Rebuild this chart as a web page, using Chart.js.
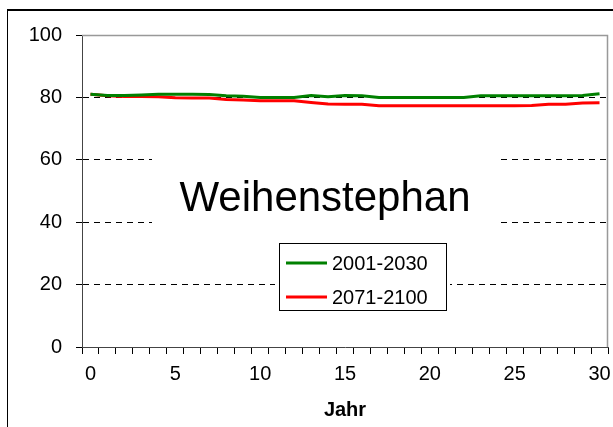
<!DOCTYPE html>
<html>
<head>
<meta charset="utf-8">
<script src="https://cdn.jsdelivr.net/npm/chart.js@4.4.1/dist/chart.umd.min.js"></script>
<style>
  html, body { margin: 0; padding: 0; background: #fff; }
  #wrap { width: 613px; height: 427px; position: relative; overflow: hidden; }
  #frame { position: absolute; left: 7px; top: 9px; width: 620px; height: 430px;
           border-top: 2px solid #000; border-left: 1px solid #000; pointer-events: none; z-index: 5; }
</style>
</head>
<body>
<div id="wrap"><canvas id="chart" width="613" height="427"></canvas><div id="frame"></div></div>
<script>
// values (Jahr 0..30)
const years = [0, 1, 2, 3, 4, 5, 6, 7, 8, 9, 10, 11, 12, 13, 14, 15, 16, 17, 18, 19, 20, 21, 22, 23, 24, 25, 26, 27, 28, 29, 30];
const shownTicks = ["0", "5", "10", "15", "20", "25", "30"];
const seriesNames = ["2001-2030", "2071-2100"];
const early = [81.0, 80.6, 80.6, 80.8, 81.0, 81.0, 81.0, 80.9, 80.5, 80.4, 80.0, 80.0, 80.0, 80.6, 80.2, 80.6,
               80.5, 80.0, 80.0, 80.0, 80.0, 80.0, 80.0, 80.5, 80.5, 80.5, 80.5, 80.5, 80.5, 80.6, 81.2];
const late = [81.0, 80.5, 80.3, 80.3, 80.2, 79.9, 79.8, 79.8, 79.3, 79.2, 78.9, 78.9, 78.9, 78.4, 77.9, 77.8,
              77.8, 77.3, 77.3, 77.3, 77.3, 77.3, 77.3, 77.3, 77.3, 77.3, 77.4, 77.8, 77.8, 78.2, 78.3];
const yTicks = [0, 20, 40, 60, 80, 100];
const stationName = "Weihenstephan";

const FONT = "'Liberation Sans', Arial, sans-serif";

// plot border, outer frame line, title box and legend box
const extras = {
    id: "extras",
    afterDraw(chart) {
        const c = chart.ctx;
        c.save();
        c.fillStyle = "#000";
        c.fillRect(7, 9, 606, 2);
        c.fillRect(7, 9, 1, 418);
        c.restore();
    },
    beforeDatasetsDraw(chart) {
        const c = chart.ctx;
        const a = chart.chartArea;
        c.save();
        c.strokeStyle = "#999";
        c.lineWidth = 1.5;
        c.beginPath();
        c.moveTo(a.left, a.top + 0.5);
        c.lineTo(a.right - 0.5, a.top + 0.5);
        c.lineTo(a.right - 0.5, a.bottom);
        c.stroke();

        // title box
        c.fillStyle = "#fff";
        c.fillRect(152, 150, 345, 80);
        c.fillStyle = "#000";
        c.font = "42px " + FONT;
        c.textAlign = "center";
        c.textBaseline = "alphabetic";
        c.fillText(stationName, 325, 211);

        // legend box
        c.fillStyle = "#fff";
        c.fillRect(275, 240, 175, 74);
        c.strokeStyle = "#000";
        c.lineWidth = 1;
        c.strokeRect(279.5, 243.5, 167, 67);
        c.font = "20px " + FONT;
        c.textAlign = "left";
        c.textBaseline = "middle";
        chart.data.datasets.forEach((ds, i) => {
            const y = 263 + i * 34;
            c.strokeStyle = ds.borderColor;
            c.lineWidth = 3;
            c.beginPath();
            c.moveTo(286, y);
            c.lineTo(327, y);
            c.stroke();
            c.fillStyle = "#000";
            c.fillText(ds.label, 332, y + 1);
        });
        c.restore();
    }
};

new Chart(document.getElementById("chart"), {
    type: "line",
    data: {
        labels: years.map(String),
        datasets: [
            { label: seriesNames[0], data: early, borderColor: "#008000", borderWidth: 3, pointRadius: 0, tension: 0 },
            { label: seriesNames[1], data: late, borderColor: "#ff0000", borderWidth: 3, pointRadius: 0, tension: 0 }
        ]
    },
    options: {
        responsive: false,
        animation: false,
        layout: { padding: { left: 0, right: 5, top: 35, bottom: 0 } },
        plugins: {
            legend: { display: false },
            tooltip: { enabled: false }
        },
        scales: {
            x: {
                offset: true,
                grid: {
                    offset: true,
                    drawOnChartArea: false,
                    tickLength: 7,
                    tickColor: "#000",
                    tickBorderDash: []
                },
                border: { color: "#444", width: 1 },
                ticks: {
                    autoSkip: false,
                    maxRotation: 0,
                    padding: 8,
                    color: "#000",
                    font: { family: FONT, size: 20 },
                    callback(v) {
                        const l = this.getLabelForValue(v);
                        return shownTicks.includes(l) ? l : "";
                    }
                },
                title: {
                    display: true,
                    text: "Jahr",
                    color: "#000",
                    font: { family: FONT, size: 20, weight: "bold" },
                    padding: { top: 0, bottom: 5 }
                },
                afterFit(s) {
                    s.height = 80;
                    s.paddingLeft = 0;
                    s.paddingRight = 0;
                }
            },
            y: {
                min: 0,
                max: 100,
                afterBuildTicks(s) { s.ticks = yTicks.map(v => ({ value: v })); },
                grid: {
                    color: ctx => (ctx.tick && (ctx.tick.value === 0 || ctx.tick.value === 100)) ? "rgba(0,0,0,0)" : "#000",
                    tickColor: "#000",
                    tickLength: 6,
                    tickBorderDash: []
                },
                border: { color: "#444", width: 1, dash: [6, 5] },
                ticks: {
                    padding: 14,
                    color: "#000",
                    font: { family: FONT, size: 20 }
                },
                afterFit(s) {
                    s.width = 82;
                    s.paddingTop = 0;
                    s.paddingBottom = 0;
                }
            }
        }
    },
    plugins: [extras]
});
</script>
</body>
</html>
